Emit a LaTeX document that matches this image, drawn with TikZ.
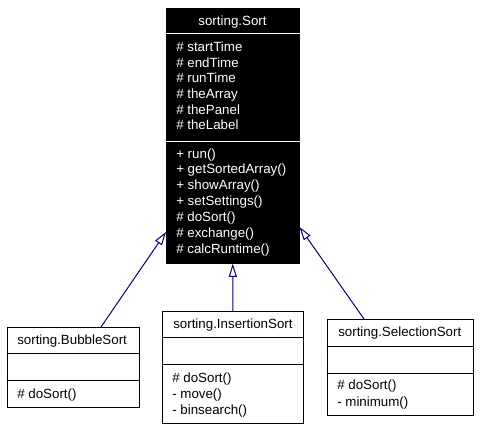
\documentclass[tikz,border=0pt]{standalone}
\usepackage{fontspec}
\setmainfont{Liberation Sans}
\usetikzlibrary{arrows.meta,calc}
\definecolor{navy}{RGB}{0,0,128}
\begin{document}
\begin{tikzpicture}[x=0.75pt,y=-0.75pt,
  box/.style={draw=black, line width=0.75pt, fill=white, anchor=north west, inner sep=0pt},
  mainbox/.style={draw=black, fill=black, anchor=north west, inner sep=0pt},
  txt/.style={anchor=west, inner sep=0pt, text height=7.2pt, text depth=0pt, font=\fontsize{10pt}{12pt}\selectfont},
  wtxt/.style={txt, text=white},
  sep/.style={draw=black, line width=0.75pt},
  wsep/.style={draw=white, line width=0.75pt},
  inh/.style={draw=navy, line width=0.75pt, -{Triangle[open, fill=white, length=10pt, width=6pt]}}]
\useasboundingbox (0,0) rectangle (480,429);
% main class
\node[mainbox, minimum width=99.75pt, minimum height=191.25pt] (sort) at (166,8) {};
\draw[wsep] ($(sort.north west)+(0,25)$) -- ($(sort.north east)+(0,25)$);
\draw[wsep] ($(sort.north west)+(0,133)$) -- ($(sort.north east)+(0,133)$);
\node[wtxt, anchor=center] (st) at (232.5,21) {sorting.Sort};
\node[wtxt] (a1) at (176,47) {\# startTime};
\node[wtxt] (a2) at (176,62.5) {\# endTime};
\node[wtxt] (a3) at (176,78) {\# runTime};
\node[wtxt] (a4) at (176,94) {\# theArray};
\node[wtxt] (a5) at (176,109.5) {\# thePanel};
\node[wtxt] (a6) at (176,125) {\# theLabel};
\node[wtxt] (m1) at (176,153.5) {+ run()};
\node[wtxt] (m2) at (176,169) {+ getSortedArray()};
\node[wtxt] (m3) at (176,184.5) {+ showArray()};
\node[wtxt] (m4) at (176,200.5) {+ setSettings()};
\node[wtxt] (m5) at (176,217) {\# doSort()};
\node[wtxt] (m6) at (176,233) {\# exchange()};
\node[wtxt] (m7) at (176,248.5) {\# calcRuntime()};
% BubbleSort
\node[box, minimum width=99pt, minimum height=60pt] (bubble) at (7,327) {};
\draw[sep] ($(bubble.north west)+(0,26)$) -- ($(bubble.north east)+(0,26)$);
\draw[sep] ($(bubble.north west)+(0,53)$) -- ($(bubble.north east)+(0,53)$);
\node[txt] (bt) at (17,340) {sorting.BubbleSort};
\node[txt] (b1) at (17,393.5) {\# doSort()};
% InsertionSort
\node[box, minimum width=105.75pt, minimum height=84pt] (ins) at (162,311) {};
\draw[sep] ($(ins.north west)+(0,26)$) -- ($(ins.north east)+(0,26)$);
\draw[sep] ($(ins.north west)+(0,53)$) -- ($(ins.north east)+(0,53)$);
\node[txt] (it) at (173,324) {sorting.InsertionSort};
\node[txt] (i1) at (172,377.5) {\# doSort()};
\node[txt] (i2) at (172,393.5) {- move()};
\node[txt] (i3) at (172,409.5) {- binsearch()};
% SelectionSort
\node[box, minimum width=109.5pt, minimum height=72pt] (sel) at (327,319) {};
\draw[sep] ($(sel.north west)+(0,27)$) -- ($(sel.north east)+(0,27)$);
\draw[sep] ($(sel.north west)+(0,54)$) -- ($(sel.north east)+(0,54)$);
\node[txt] (slt) at (338,332) {sorting.SelectionSort};
\node[txt] (s1) at (337,385) {\# doSort()};
\node[txt] (s2) at (337,401.5) {- minimum()};
% generalisations
\coordinate (bfrom) at ($(bubble.north west)+(94,0)$);
\coordinate (bto) at ($(sort.north west)+(0,224)$);
\coordinate (sfrom) at ($(sel.north west)+(37,0)$);
\coordinate (sto) at ($(sort.north east)+(0,219)$);
\draw[inh] (bfrom) -- (bto);
\draw[inh] (ins.north) -- (sort.south);
\draw[inh] (sfrom) -- (sto);
\end{tikzpicture}
\end{document}
